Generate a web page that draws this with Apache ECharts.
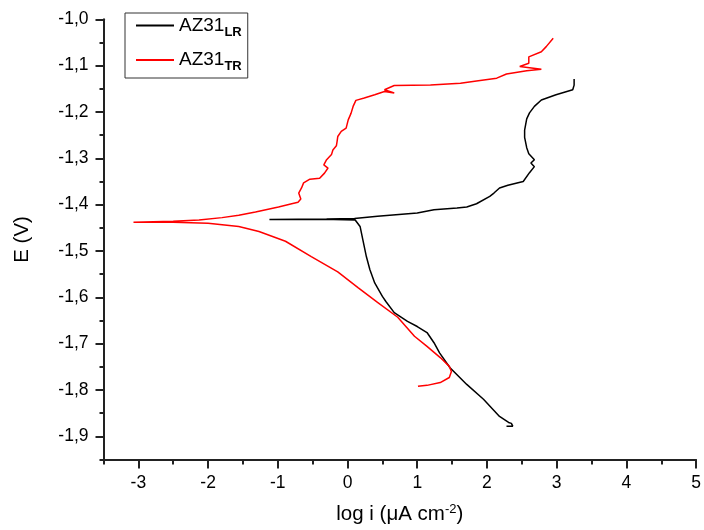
<!DOCTYPE html>
<html>
<head>
<meta charset="utf-8">
<script src="https://cdn.jsdelivr.net/npm/echarts@6/dist/echarts.min.js"></script>
<style>
	html, body { margin: 0; padding: 0; background: #fff; }
	#chart { width: 704px; height: 530px; }
</style>
</head>
<body>
<div id="chart"></div>
<script>
// log i (uA cm-2) against E (V)
const az31LR = [
	[ 2.28, -1.878 ], [ 2.37, -1.878 ], [ 2.35, -1.872 ], [ 2.31, -1.870 ], [ 2.18, -1.857 ],
	[ 1.95, -1.820 ], [ 1.71, -1.788 ], [ 1.47, -1.752 ], [ 1.32, -1.720 ], [ 1.24, -1.698 ],
	[ 1.14, -1.676 ], [ 1.00, -1.663 ], [ 0.86, -1.652 ], [ 0.67, -1.633 ], [ 0.55, -1.609 ],
	[ 0.50, -1.598 ], [ 0.39, -1.569 ], [ 0.32, -1.540 ], [ 0.27, -1.512 ], [ 0.22, -1.476 ],
	[ 0.18, -1.447 ], [ 0.11, -1.433 ], [ -0.2, -1.432 ], [ -1.12, -1.432 ], [ -1.12, -1.431 ],
	[ -0.3, -1.431 ], [ 0.10, -1.430 ], [ 0.43, -1.425 ], [ 1.00, -1.418 ], [ 1.24, -1.411 ],
	[ 1.57, -1.407 ], [ 1.71, -1.405 ], [ 1.85, -1.398 ], [ 2.04, -1.382 ], [ 2.10, -1.375 ],
	[ 2.18, -1.364 ], [ 2.30, -1.358 ], [ 2.52, -1.350 ], [ 2.61, -1.331 ], [ 2.68, -1.318 ],
	[ 2.63, -1.310 ], [ 2.68, -1.303 ], [ 2.60, -1.290 ], [ 2.57, -1.277 ], [ 2.54, -1.255 ],
	[ 2.54, -1.239 ], [ 2.57, -1.215 ], [ 2.61, -1.202 ], [ 2.68, -1.188 ], [ 2.78, -1.174 ],
	[ 2.99, -1.163 ], [ 3.23, -1.152 ], [ 3.25, -1.142 ], [ 3.25, -1.129 ]
];

const az31TR = [
	[ 1.01, -1.792 ], [ 1.14, -1.790 ], [ 1.33, -1.784 ], [ 1.46, -1.773 ], [ 1.49, -1.760 ],
	[ 1.46, -1.749 ], [ 1.33, -1.730 ], [ 1.14, -1.706 ], [ 0.96, -1.684 ], [ 0.72, -1.643 ],
	[ 0.43, -1.611 ], [ 0.15, -1.579 ], [ -0.14, -1.545 ], [ -0.52, -1.512 ], [ -0.89, -1.479 ],
	[ -1.27, -1.458 ], [ -1.56, -1.447 ], [ -2.00, -1.440 ], [ -2.50, -1.438 ], [ -3.07, -1.438 ],
	[ -3.07, -1.437 ], [ -2.50, -1.436 ], [ -2.13, -1.433 ], [ -1.80, -1.428 ], [ -1.56, -1.423 ],
	[ -1.32, -1.416 ], [ -0.99, -1.405 ], [ -0.80, -1.398 ], [ -0.71, -1.395 ], [ -0.67, -1.388 ],
	[ -0.70, -1.375 ], [ -0.66, -1.364 ], [ -0.63, -1.353 ], [ -0.54, -1.345 ], [ -0.40, -1.343 ],
	[ -0.33, -1.332 ], [ -0.28, -1.321 ], [ -0.34, -1.314 ], [ -0.30, -1.303 ], [ -0.23, -1.292 ],
	[ -0.21, -1.282 ], [ -0.16, -1.273 ], [ -0.15, -1.264 ], [ -0.14, -1.253 ], [ -0.09, -1.242 ],
	[ -0.02, -1.235 ], [ 0.01, -1.217 ], [ 0.05, -1.203 ], [ 0.08, -1.188 ], [ 0.12, -1.175 ],
	[ 0.24, -1.170 ], [ 0.39, -1.163 ], [ 0.53, -1.156 ], [ 0.67, -1.159 ], [ 0.53, -1.152 ],
	[ 0.67, -1.143 ], [ 1.19, -1.142 ], [ 1.62, -1.138 ], [ 1.85, -1.133 ], [ 2.14, -1.127 ],
	[ 2.28, -1.118 ], [ 2.57, -1.111 ], [ 2.78, -1.108 ], [ 2.47, -1.102 ], [ 2.60, -1.095 ],
	[ 2.60, -1.081 ], [ 2.78, -1.070 ], [ 2.85, -1.059 ], [ 2.95, -1.041 ]
];

const xMajorTicks = [ -3, -2, -1, 0, 1, 2, 3, 4, 5 ];
const xMinorTicks = [ -3.5, -2.5, -1.5, -0.5, 0.5, 1.5, 2.5, 3.5, 4.5 ];
const yMajorTicks = [ -1.9, -1.8, -1.7, -1.6, -1.5, -1.4, -1.3, -1.2, -1.1, -1.0 ];
const yMinorTicks = [ -1.95, -1.85, -1.75, -1.65, -1.55, -1.45, -1.35, -1.25, -1.15, -1.05 ];

const font = '"Liberation Sans", Arial, sans-serif';
const axisColor = '#222';

const chart = echarts.init( document.getElementById( 'chart' ), null, { renderer: 'canvas' } );

const baseAxis = {
	type: 'value',
	splitLine: { show: false },
	axisLine: { show: true, onZero: false, lineStyle: { color: axisColor, width: 2 } }
};

chart.setOption( {
	animation: false,
	backgroundColor: '#fff',
	grid: { left: 103.5, right: 3, top: 19.3, bottom: 70 },
	legend: {
		orient: 'vertical',
		left: 125,
		top: 13,
		borderColor: '#333',
		borderWidth: 1,
		padding: [ 3, 6, 5, 11 ],
		itemGap: 12,
		itemWidth: 38,
		itemHeight: 2,
		icon: 'rect',
		data: [ 'AZ31_LR', 'AZ31_TR' ],
		formatter: function ( name ) {
			const parts = name.split( '_' );
			return '{m|' + parts[ 0 ] + '}{s|' + parts[ 1 ] + '}';
		},
		textStyle: {
			rich: {
				m: { fontFamily: font, fontSize: 19, color: '#000', lineHeight: 25 },
				s: { fontFamily: font, fontSize: 13, fontWeight: 'bold', color: '#000', padding: [ 13, 0, 0, 0 ] }
			}
		}
	},
	xAxis: [
		Object.assign( {}, baseAxis, {
			min: -3.5,
			max: 5,
			position: 'bottom',
			name: '{a|log i (μA cm}{s|-2}{a|)}',
			nameLocation: 'middle',
			nameGap: 43,
			nameTextStyle: {
				rich: {
					a: { fontFamily: font, fontSize: 20.5, color: '#000' },
					s: { fontFamily: font, fontSize: 13, color: '#000', padding: [ 0, 0, 11, 0 ] }
				}
			},
			axisTick: { show: true, customValues: xMajorTicks, length: 9, lineStyle: { color: axisColor, width: 2 } },
			axisLabel: { customValues: xMajorTicks, margin: 15, fontFamily: font, fontSize: 17.5, color: '#000' }
		} ),
		Object.assign( {}, baseAxis, {
			min: -3.5,
			max: 5,
			position: 'bottom',
			axisLine: { show: false, onZero: false },
			axisTick: { show: true, customValues: xMinorTicks, length: 5, lineStyle: { color: axisColor, width: 2 } },
			axisLabel: { show: false }
		} )
	],
	yAxis: [
		Object.assign( {}, baseAxis, {
			min: -1.95,
			max: -1.0,
			position: 'left',
			name: 'E (V)',
			nameLocation: 'middle',
			nameGap: 71,
			nameTextStyle: { fontFamily: font, fontSize: 20.5, color: '#000' },
			axisTick: { show: true, customValues: yMajorTicks, length: 8, lineStyle: { color: axisColor, width: 2 } },
			axisLabel: {
				customValues: yMajorTicks,
				margin: 15,
				fontFamily: font,
				fontSize: 17.5,
				color: '#000',
				formatter: ( v ) => v.toFixed( 1 ).replace( '.', ',' )
			}
		} ),
		Object.assign( {}, baseAxis, {
			min: -1.95,
			max: -1.0,
			position: 'left',
			axisLine: { show: false, onZero: false },
			axisTick: { show: true, customValues: yMinorTicks, length: 4, lineStyle: { color: axisColor, width: 2 } },
			axisLabel: { show: false }
		} )
	],
	series: [
		{
			name: 'AZ31_LR',
			type: 'line',
			data: az31LR,
			showSymbol: false,
			color: '#000',
			lineStyle: { color: '#000', width: 1.5 }
		},
		{
			name: 'AZ31_TR',
			type: 'line',
			data: az31TR,
			showSymbol: false,
			color: '#ff0000',
			lineStyle: { color: '#ff0000', width: 1.5 }
		}
	]
} );
</script>
</body>
</html>
